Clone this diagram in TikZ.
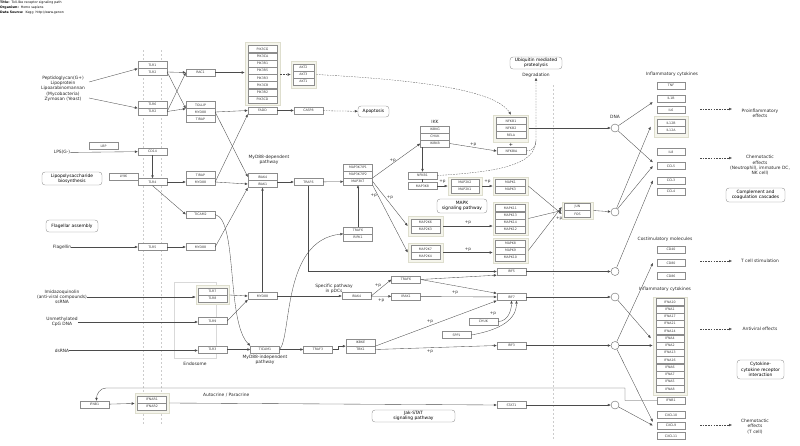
\documentclass[tikz,border=0pt]{standalone}
\usepackage{fontspec}
\setmainfont{DejaVu Sans}
\usetikzlibrary{arrows.meta}

\definecolor{geneline}{RGB}{140,140,140}
\definecolor{grpfill}{RGB}{245,245,236}
\definecolor{grpline}{RGB}{222,222,206}
\definecolor{wire}{RGB}{75,75,75}

\newcommand{\genefont}{\fontsize{3.2}{3.6}\selectfont}
\newcommand{\labfont}{\fontsize{4.4}{5.3}\selectfont}
\newcommand{\pfont}{\fontsize{4.2}{5}\selectfont}
\newcommand{\headfont}{\fontsize{3.2}{5.3}\selectfont}

\tikzset{
  gene/.style={draw=geneline, fill=white, line width=0.3pt, minimum width=29pt,
    minimum height=7pt, inner sep=0pt, font=\genefont, text=black!75},
  grp/.style={draw=grpline, fill=grpfill, line width=0.6pt, inner sep=0pt},
  pathbox/.style={draw=black!45, line width=0.35pt, rounded corners=3pt, fill=white,
    align=center, font=\labfont, inner sep=1pt},
  lab/.style={font=\labfont, align=center, text=black!85, inner sep=0pt},
  pplab/.style={font=\pfont, text=black!80, inner sep=0pt},
  circ/.style={circle, draw=black!60, fill=white, line width=0.4pt, minimum size=8pt, inner sep=0pt},
  sig/.style={draw=wire, line width=0.35pt, -{Latex[length=3pt,width=2.6pt]}},
  ind/.style={sig, line width=0.3pt, dash pattern=on 1.6pt off 1.1pt},
  memb/.style={draw=black!20, line width=0.4pt, dash pattern=on 2pt off 2pt},
  endo/.style={draw=black!15, line width=0.6pt},
}

\begin{document}
\begin{tikzpicture}[x=1pt,y=-1pt]
\useasboundingbox (0,0) rectangle (800,445);

% membranes and endosome
\draw[memb] (143,50) -- (143,425);
\draw[memb] (161,50) -- (161,425);
\draw[memb] (553,85) -- (553,440);
\draw[endo] (174,282) rectangle (216,358);
\node[lab] (endolab) at (195,363.5) {Endosome};

% header
\node[anchor=north west, font=\headfont, align=left, inner sep=0pt] (title) at (0,0.6)
  {\textbf{Title:}\ \ Toll-like receptor signaling path\\
   \textbf{Organism:}\ \ Homo sapiens\\
   \textbf{Data Source:}\ \ Kegg\ \ http://www.genon};

% complex backgrounds
\node[grp, minimum width=35pt, minimum height=63pt] (pik3grp) at (262.5,73.5) {};
\node[grp, minimum width=25pt, minimum height=27pt] (aktgrp) at (303.5,74.5) {};
\node[grp, minimum width=35pt, minimum height=27pt] (nfkbgrp) at (511,128.5) {};
\node[grp, minimum width=34pt, minimum height=18pt] (map2k1grp) at (465,186) {};
\node[grp, minimum width=35pt, minimum height=18pt] (mapk1grp) at (510.5,186) {};
\node[grp, minimum width=35pt, minimum height=20pt] (map2k6grp) at (425.5,226) {};
\node[grp, minimum width=35pt, minimum height=33pt] (mapk11grp) at (510.5,218.5) {};
\node[grp, minimum width=35pt, minimum height=19pt] (map2k7grp) at (425.5,252.5) {};
\node[grp, minimum width=35pt, minimum height=25pt] (mapk8grp) at (510.5,250.5) {};
\node[grp, minimum width=31pt, minimum height=17pt] (jungrp) at (577.5,210.5) {};
\node[grp, minimum width=33pt, minimum height=19pt] (tlr78grp) at (212.5,295) {};
\node[grp, minimum width=34pt, minimum height=20pt] (ifnargrp) at (152,403) {};
\node[grp, minimum width=34pt, minimum height=21pt] (il12grp) at (671,126.5) {};
\node[grp, minimum width=34pt, minimum height=98pt] (ifngrp) at (670,346) {};

% receptors
\node[gene] (TLR1) at (152.5,65) {TLR1};
\node[gene] (TLR2a) at (152.5,72) {TLR2};
\node[gene] (TLR6) at (152.5,104.5) {TLR6};
\node[gene] (TLR2b) at (152.5,111.5) {TLR2};
\node[gene] (LBP) at (103.5,146) {LBP};
\node[gene] (CD14) at (152.5,151.5) {CD14};
\node[gene] (LY96) at (123.5,176.5) {LY96};
\node[gene] (TLR4) at (152.5,182) {TLR4};
\node[gene] (TLR5) at (152.5,247) {TLR5};
\node[gene] (TLR7) at (212.5,291.5) {TLR7};
\node[gene] (TLR8) at (212.5,298.5) {TLR8};
\node[gene] (TLR9) at (212.5,321) {TLR9};
\node[gene] (TLR3) at (212.5,349.5) {TLR3};

% adaptors
\node[gene] (RAC1) at (200.5,72.5) {RAC1};
\node[gene] (TOLLIP) at (200.5,105) {TOLLIP};
\node[gene] (MYD88a) at (200.5,112) {MYD88};
\node[gene] (TIRAPa) at (200.5,119) {TIRAP};
\node[gene] (TIRAPb) at (200.5,175) {TIRAP};
\node[gene] (MYD88b) at (200.5,182) {MYD88};
\node[gene] (TICAM2) at (200.5,214.5) {TICAM2};
\node[gene] (MYD88c) at (200.5,247) {MYD88};
\node[gene] (MYD88d) at (262.5,296) {MYD88};
\node[gene] (TICAM1) at (265,349.5) {TICAM1};

\foreach \g [count=\i] in {PIK3CG,PIK3CA,PIK3R1,PIK3R5,PIK3R3,PIK3CB,PIK3R2,PIK3CD}
  \node[gene] (\g) at (262.5,{41.9+7.2*\i}) {\g};
\foreach \g [count=\i] in {AKT2,AKT3,AKT1}
  \node[gene, minimum width=21pt] (\g) at (303.5,{60.5+7*\i}) {\g};

\node[gene] (FADD) at (262.5,110.5) {FADD};
\node[gene] (CASP8) at (308.5,110.5) {CASP8};
\node[gene] (IRAK4a) at (262.5,177) {IRAK4};
\node[gene] (IRAK1a) at (262.5,184) {IRAK1};
\node[gene] (TRAF6a) at (308.5,182) {TRAF6};
\node[gene] (MAP3K7IP1) at (358,167.5) {MAP3K7IP1};
\node[gene] (MAP3K7IP2) at (358,174.5) {MAP3K7IP2};
\node[gene] (MAP3K7) at (358,181.5) {MAP3K7};
\node[gene] (TRAF6b) at (358,230.5) {TRAF6};
\node[gene] (RIPK1) at (358,237.5) {RIPK1};
\node[gene] (IRAK4b) at (356.5,296) {IRAK4};
\node[gene] (TRAF3) at (318,349.5) {TRAF3};
\node[gene] (IKBKE) at (360.5,342.5) {IKBKE};
\node[gene] (TBK1) at (360.5,349.5) {TBK1};
\node[gene] (TRAF6c) at (406,279.5) {TRAF6};
\node[gene] (IRAK1b) at (406,296.5) {IRAK1};
\node[gene] (IKBKG) at (435,129.5) {IKBKG};
\node[gene] (CHUKa) at (435,136.5) {CHUK};
\node[gene] (IKBKB) at (435,143.5) {IKBKB};
\node[gene] (NFKB1a) at (422.5,175.5) {NFKB1};
\node[gene] (MAP3K8) at (422.5,186) {MAP3K8};
\node[gene, minimum width=28pt] (MAP2K2) at (465,182.5) {MAP2K2};
\node[gene, minimum width=28pt] (MAP2K1) at (465,189.5) {MAP2K1};
\node[gene] (MAP2K6) at (425.5,222.5) {MAP2K6};
\node[gene] (MAP2K3) at (425.5,229.5) {MAP2K3};
\node[gene] (MAP2K7) at (425.5,249) {MAP2K7};
\node[gene] (MAP2K4) at (425.5,256) {MAP2K4};
\node[gene] (SPP1) at (456.5,335) {SPP1};
\node[gene] (CHUKb) at (483.5,321.5) {CHUK};
\foreach \g [count=\i] in {NFKB1,NFKB2,RELA}
  \node[gene, minimum width=30pt] (\g b) at (511,{114+7*\i}) {\g};
\node[gene] (NFKBIA) at (511.5,151) {NFKBIA};
\node[font=\fontsize{5}{5}\selectfont, inner sep=0pt] (bindA) at (511,144.5) {+};
\foreach \g [count=\i] in {MAPK1,MAPK3}
  \node[gene, minimum width=30pt] (\g) at (510.5,{175.5+7*\i}) {\g};
\foreach \g [count=\i] in {MAPK11,MAPK13,MAPK14,MAPK12}
  \node[gene, minimum width=30pt] (\g) at (510.5,{200.8+7.2*\i}) {\g};
\foreach \g [count=\i] in {MAPK8,MAPK9,MAPK10}
  \node[gene, minimum width=30pt] (\g) at (510.5,{236.5+7*\i}) {\g};
\node[gene] (IRF5) at (511.5,271.5) {IRF5};
\node[gene] (IRF7) at (511.5,297) {IRF7};
\node[gene] (IRF3) at (511.5,345.5) {IRF3};
\node[gene] (STAT1) at (511.5,405) {STAT1};
\node[gene, minimum width=26pt] (JUN) at (577.5,207) {JUN};
\node[gene, minimum width=26pt] (FOS) at (577.5,214) {FOS};
\node[gene] (IFNB1a) at (94.5,404.5) {IFNB1};
\node[gene] (IFNAR1) at (152,399.5) {IFNAR1};
\node[gene] (IFNAR2) at (152,406.5) {IFNAR2};

% transcription sites
\foreach \n/\y in {c1/128,c2/212,c3/271.5,c4/297,c5/345.5,c6/405}
  \node[circ] (\n) at (615,\y) {};
\node[lab] (dna) at (615,117) {DNA};

% target genes
\foreach \g/\y in {TNF/85.5,IL1B/98.5,IL6/110,IL12B/123,IL12A/130,IL8/152,CCL5/166,CCL3/180.5,CCL4/191.5,
                   CD40/249.5,CD80/263,CD86/276,IFNB1b/400.5,CXCL10/415,CXCL9/425.5,CXCL11/436}
  \node[gene, minimum width=28pt] (\g) at (671,\y) {};
\foreach \g/\t in {TNF/TNF,IL1B/IL1B,IL6/IL6,IL12B/IL12B,IL12A/IL12A,IL8/IL8,CCL5/CCL5,CCL3/CCL3,CCL4/CCL4,
                   CD40/CD40,CD80/CD80,CD86/CD86,IFNB1b/IFNB1,CXCL10/CXCL10,CXCL9/CXCL9,CXCL11/CXCL11}
  \node[font=\genefont, text=black!75, inner sep=0pt] at (\g) {\t};
\foreach \g [count=\i] in {IFNA10,IFNA1,IFNA17,IFNA21,IFNA14,IFNA4,IFNA2,IFNA13,IFNA16,IFNA6,IFNA7,IFNA5,IFNA8}
  \node[gene, minimum width=28pt] (\g) at (670,{294.75+7.25*\i}) {\g};

% texts
\node[lab] (pgn) at (63,88.5) {Peptidoglycan(G+)\\Lipoprotein\\Lipoarabinomannan\\(Mycobacteria)\\Zymosan (Yeast)};
\node[lab] (lps) at (62,152.5) {LPS(G-)};
\node[pathbox, minimum width=60pt, minimum height=13pt] (lpsbio) at (72,178.5) {Lipopolysaccharide\\biosynthesis};
\node[pathbox, minimum width=52pt, minimum height=12pt] (flagasm) at (72,226) {Flagellar assembly};
\node[lab] (flagellin) at (62,247) {Flagellin};
\node[lab] (imid) at (62,297) {Imidazoquinolin\\(anti-viral compounds)\\ssRNA};
\node[lab] (cpg) at (62,322) {Unmethylated\\CpG DNA};
\node[lab] (dsrna) at (62,350.5) {dsRNA};
\node[lab] (myddep) at (269,160) {MyD88-dependent\\pathway};
\node[lab] (pdc) at (334,289) {Specific pathway\\in pDCs};
\node[lab] (mydind) at (265,360) {MyD88-independent\\pathway};
\node[lab] (ikklab) at (435,122) {IKK};
\node[pathbox, minimum width=52pt, minimum height=12pt] (ubq) at (536,63) {Ubiquitin mediated\\proteolysis};
\node[lab] (degr) at (536,75.5) {Degradation};
\node[pathbox, minimum width=50pt, minimum height=14pt] (mapkpath) at (462,206) {MAPK\\signaling pathway};
\node[pathbox, minimum width=31pt, minimum height=11pt] (apop) at (373.5,111.5) {Apoptosis};
\node[pathbox, minimum width=83pt, minimum height=12pt] (jak) at (413.5,416) {Jak-STAT\\signaling pathway};
\node[lab] (inflamA) at (672,74.5) {Inflammatory cytokines};
\node[lab] (costim) at (665,239) {Costimulatory molecules};
\node[lab] (inflamB) at (665,289) {Inflammatory cytokines};
\node[lab] (proinf) at (760,113.5) {Proinflammatory\\effects};
\node[lab] (chemoA) at (760,165.5) {Chemotactic\\effects\\(Neutrophil), immature DC,\\NK cell)};
\node[pathbox, minimum width=59pt, minimum height=14pt] (compl) at (755.5,195) {Complement and\\coagulation cascades};
\node[lab] (tcell) at (760,261) {T cell stimulation};
\node[lab] (antiv) at (760,329) {Antiviral effects};
\node[pathbox, minimum width=47pt, minimum height=19pt] (cytok) at (760.5,369.5) {Cytokine-\\cytokine receptor\\interaction};
\node[lab] (chemoB) at (755,426.5) {Chemotactic\\effects\\(T cell)};
\node[lab, anchor=west] (auto) at (203,395) {Autocrine / Paracrine};

% free ends
\coordinate (pgnA) at (89,82);
\coordinate (pgnB) at (89,98);
\coordinate (loopR) at (625,388);
\coordinate (loopL) at (106,388);
\coordinate (eff1) at (700,109);
\coordinate (eff2) at (700,158);
\coordinate (eff3) at (700,261);
\coordinate (eff4) at (700,329);
\coordinate (eff5) at (700,425);

% ligands to receptors
\draw[sig] (pgnA) -- (TLR1.south west);
\draw[sig] (pgnB) -- (TLR6.south west);
\draw[sig] (lps) -- (CD14);
\draw[sig] (CD14) -- (TLR4);
\draw[sig] (flagellin) -- (TLR5);
\draw[sig] (imid.east) -- (imid.east -| tlr78grp.west);
\draw[sig] (cpg.east) -- (cpg.east -| TLR9.west);
\draw[sig] (dsrna.east) -- (dsrna.east -| TLR3.west);

% TLR2 branch
\draw[sig] (TLR2a.east) -- (RAC1.west);
\draw[sig] (TLR2a.east) -- (TOLLIP.south west);
\draw[sig] (TLR2b.east) -- (RAC1.west);
\draw[sig] (TLR2b.east) -- (TOLLIP.south west);
\draw[sig] (RAC1.east) -- (RAC1.east -| pik3grp.west);
\draw[ind] (pik3grp.east |- AKT3) -- (aktgrp.west |- AKT3);
\draw[ind] (aktgrp.east) .. controls (420,80) and (495,90) .. (nfkbgrp.north);
\draw[sig] (MYD88a.east) -- (FADD.west);
\draw[sig] (MYD88a.east) -- (IRAK4a.west);
\draw[sig] (FADD) -- (CASP8);
\draw[ind] (CASP8) -- (apop);

% TLR4 / TLR5 branch
\draw[sig] (TLR4) -- (MYD88b);
\draw[sig] (TLR4.south) -- (TICAM2.west);
\draw[sig] (MYD88b.east) -- (FADD.south west);
\draw[sig] (MYD88b.east) -- (IRAK1a.west);
\draw[sig] (TLR5) -- (MYD88c);
\draw[sig] (MYD88c.east) -- (IRAK1a.south west);
\draw[sig] (TICAM2.east) .. controls (238,220) and (226,322) .. (TICAM1.north west);

% endosomal receptors
\draw[sig] (tlr78grp.east) -- (MYD88d.west);
\draw[sig] (TLR9.east) -- (MYD88d.south west);
\draw[sig] (TLR3) -- (TICAM1);
\draw[sig] (MYD88d) -- (IRAK1a);
\draw[sig] (MYD88d) -- (IRAK4b);

% MyD88-dependent core
\draw[sig] (TRAF6a.west -| IRAK1a.east) -- (TRAF6a.west);
\draw[sig] (TRAF6a) -- (MAP3K7);
\draw[sig] (TRAF6b) -- (MAP3K7);
\draw[sig] (TICAM1.east) .. controls (292,335) and (282,240) .. (RIPK1.north west);
\draw[sig] (TRAF6a.south) |- (IRF5.west);
\draw[sig] (MAP3K7.north east) -- (IKBKB.west) node[pplab, pos=0.42, above=1pt] {+p};
\draw[sig] (MAP3K7.east) -- (map2k6grp.west) node[pplab, pos=0.4, above right=0pt] {+p};
\draw[sig] (MAP3K7.south east) -- (map2k7grp.west) node[pplab, pos=0.12, below left=0pt] {+p};
\draw[sig] (IKBKB.east) -- (NFKBIA.west) node[pplab, midway, above=1pt] {+p};
\draw[sig] (NFKB1a.north |- IKBKB.south) -- (NFKB1a.north);
\draw[wire, line width=0.35pt] (NFKB1a.south) -- (MAP3K8.north);
\draw[ind] (NFKB1a.east) .. controls (495,172) and (536,166) .. (536,140)
  (NFKBIA.east) .. controls (533,151) and (536,146) .. (536,140) -- (degr.south);
\draw[sig] (MAP3K8.east) -- (map2k1grp.west) node[pplab, midway, above=2pt] {+p};
\draw[sig] (map2k1grp.east) -- (mapk1grp.west) node[pplab, midway, above=2pt] {+p};
\draw[sig] (map2k6grp.east) -- (map2k6grp.east -| mapk11grp.west) node[pplab, midway, above=1pt] {+p};
\draw[sig] (map2k7grp.east) -- (map2k7grp.east -| mapk8grp.west) node[pplab, midway, above=1pt] {+p};
\draw[sig] (mapk1grp.east) -- ([yshift=-3.5pt]jungrp.west);
\draw[sig] (mapk11grp.east) -- (jungrp.west);
\draw[sig] (mapk8grp.east) -- ([yshift=3.5pt]jungrp.west) node[pplab, pos=0.8, below right=1pt] {+p};

% pDC and TRIF pathways
\draw[sig] (IRAK4b.east) -- (TRAF6c.west) node[pplab, midway, above left=0pt] {+p};
\draw[sig] (IRAK4b) -- (IRAK1b) node[pplab, midway, below=2pt] {+p};
\draw[sig] (TRAF6c.east) -- (IRF5.south west);
\draw[sig] (TRAF6c.east) -- (IRF7.north west);
\draw[sig] (IRAK1b) -- (IRF7) node[pplab, pos=0.45, above=2pt] {+p};
\draw[sig] (TICAM1) -- (TRAF3);
\draw[sig] (TRAF3.east) -- ++(6,0) |- (IKBKE.south west);
\draw[sig] (IKBKE.south east) -- (IRF7.south west) node[pplab, pos=0.45, above=2pt] {+p};
\draw[sig] (TBK1.east) -- (IRF3.west) node[pplab, pos=0.45, below=2pt] {+p};
\draw[sig] (CHUKb.east) to[out=0, in=-90] (IRF7.south) node[pplab] at (493,314) {+p};
\draw[sig] (SPP1.east) to[out=10, in=-90] ([xshift=5pt]IRF7.south);

% transcription factors to DNA
\draw[sig] (nfkbgrp.east |- c1) -- (c1);
\draw[sig] (jungrp.east) -- (c2);
\draw[sig] (IRF5) -- (c3);
\draw[sig] (IRF7) -- (c4);
\draw[sig] (IRF3) -- (c5);
\draw[sig] (STAT1) -- (c6);

% expression
\draw[sig] (c1) -- ([xshift=-4pt]IL1B.south west);
\draw[sig] (c1) -- ([xshift=-4pt]CCL5.north west);
\draw[sig] (c2) -- ([xshift=-3pt]il12grp.west);
\draw[sig] (c2) -- ([xshift=-4pt]CCL5.west);
\draw[sig] (c3) -- ([xshift=-4pt]CCL3.west);
\draw[sig] (c4) -- ([xshift=-5pt]IFNA4.west);
\draw[sig] (c5) -- ([xshift=-4pt]CD80.west);
\draw[sig] (c5) -- (c5 -| ifngrp.west);
\draw[sig] (c5) -- ([xshift=-4pt]CXCL9.north west);
\draw[sig] (c6) -- ([xshift=-4pt]CXCL9.west);

% effects
\draw[ind] (eff1) -- ++(32,0);
\draw[ind] (eff2) -- ++(32,0);
\draw[ind] (eff3) -- ++(32,0);
\draw[ind] (eff4) -- ++(32,0);
\draw[ind] (eff5) -- ++(32,0);

% autocrine loop
\draw[sig] (IFNB1b.west) -| (loopR) -- (loopL) to[out=180, in=90] ([xshift=2pt]IFNB1a.north);
\draw[sig] (IFNB1a) -- (ifnargrp);
\draw[sig] (ifnargrp.east) -- (STAT1.west);
\end{tikzpicture}
\end{document}
